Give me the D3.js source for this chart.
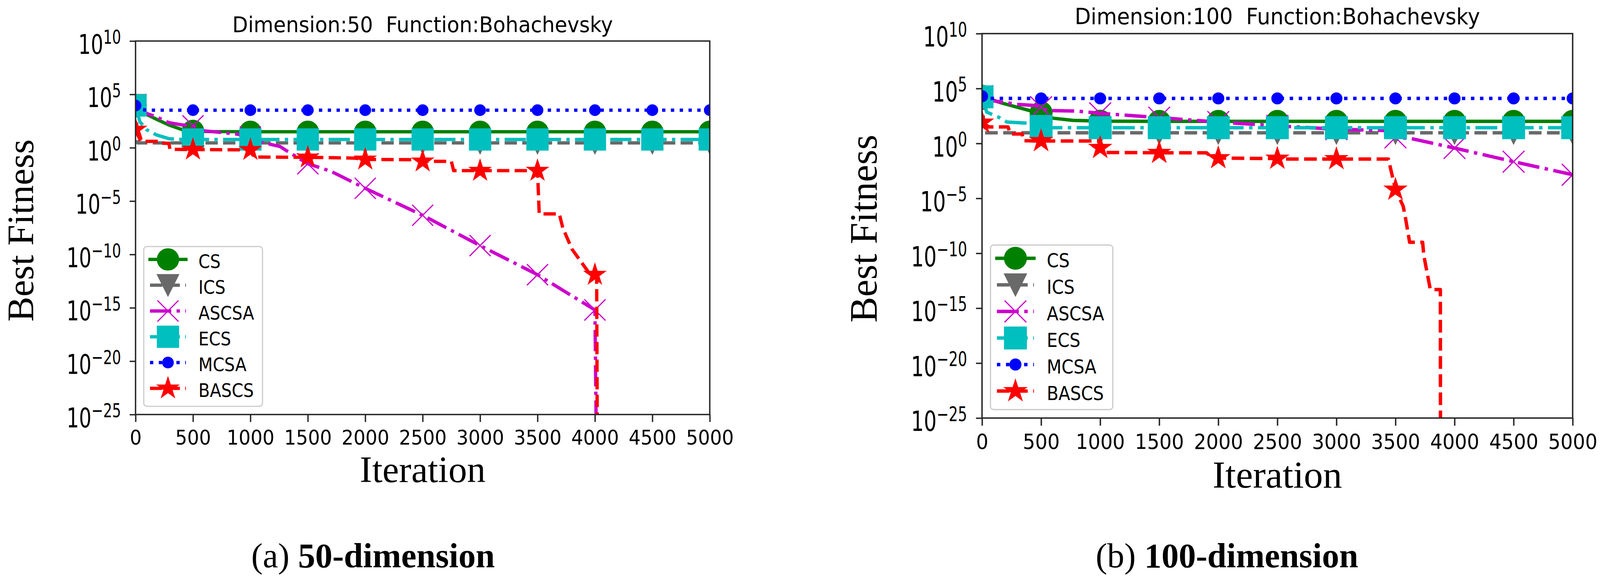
<!DOCTYPE html>
<meta charset="utf-8">
<style>
    body { margin: 0; background: #fff; }
    text { white-space: pre; }
    .sans { font-family: "DejaVu Sans", sans-serif; fill: #000; }
    .serif { font-family: "Liberation Serif", "Times New Roman", serif; fill: #000; }
</style>
<svg width="4105" height="1482"></svg>
<script src="https://d3js.org/d3.v7.min.js"></script>
<script>

    // tick values
    const iterTicks = [0, 500, 1000, 1500, 2000, 2500, 3000, 3500, 4000, 4500, 5000];
    const logTicks = [10, 5, 0, -5, -10, -15, -20, -25];

    // series, in drawing order
    const seriesNames = ["CS", "ICS", "ASCSA", "ECS", "MCSA", "BASCS"];
    const seriesColors = ["#008000", "#696969", "#cc00cc", "#00bfbf", "#0000ff", "#ff0000"];
    const seriesDash = ["-", "--", "-.", "-.", ":", "--"];
    const seriesMarker = ["o", "v", "x", "s", ".", "*"];

    // best fitness, as [iteration, log10(fitness)]
    // FLOOR = the run hit 0, so the line falls off the bottom of the axes
    const FLOOR = -40;

    // Dimension 50
    const cs50 = [[0, 4.0], [50, 3.5], [100, 3.1], [180, 2.68], [290, 2.13], [400, 1.72], [500, 1.58], [580, 1.52],
        [1000, 1.5], [1500, 1.5], [2000, 1.5], [2500, 1.5], [3000, 1.5], [3500, 1.5], [4000, 1.5], [4500, 1.5], [5000, 1.5]];
    const ics50 = [[0, 4.0], [20, 0.45], [500, 0.45], [1000, 0.45], [1500, 0.45], [2000, 0.45], [2500, 0.45],
        [3000, 0.45], [3500, 0.45], [4000, 0.45], [4500, 0.45], [5000, 0.45]];
    const ascsa50 = [[0, 4.0], [100, 3.2], [180, 2.9], [290, 2.35], [400, 2.15], [500, 2.05], [600, 1.58], [870, 1.3],
        [1000, 1.0], [1110, 0.48], [1260, 0.11], [1310, -0.25], [1500, -1.5], [1700, -2.2], [2000, -3.8],
        [2500, -6.33], [3000, -9.17], [3500, -11.9], [4000, -15.2], [4025, FLOOR]];
    const ecs50 = [[0, 3.96], [37, 2.45], [95, 1.7], [180, 1.21], [290, 0.85], [400, 0.78], [500, 0.77], [1000, 0.77],
        [1500, 0.77], [2000, 0.77], [2500, 0.77], [3000, 0.77], [3500, 0.77], [4000, 0.77], [4500, 0.77], [5000, 0.77]];
    const mcsa50 = [[0, 3.95], [40, 3.6], [100, 3.52], [500, 3.52], [1000, 3.52], [1500, 3.52], [2000, 3.52],
        [2500, 3.52], [3000, 3.52], [3500, 3.52], [4000, 3.52], [4500, 3.52], [5000, 3.52]];
    const bascs50 = [[0, 1.7], [20, 1.2], [45, 0.6], [200, 0.6], [215, 0.42], [290, 0.42], [300, -0.15], [500, -0.17],
        [1000, -0.2], [1030, -0.87], [1500, -0.9], [1900, -0.97], [2000, -1.1], [2450, -1.12], [2500, -1.28],
        [2750, -1.28], [2770, -2.15], [3000, -2.15], [3500, -2.15], [3515, -6.2], [3690, -6.2], [3720, -7.5],
        [3800, -9.5], [3900, -11], [3960, -11.9], [4000, -11.9], [4015, -11.9], [4025, FLOOR]];

    // Dimension 100
    const cs100 = [[0, 4.3], [160, 3.7], [400, 3.0], [500, 2.8], [600, 2.3], [770, 2.1], [1000, 2.03], [1500, 2.01],
        [2000, 2.01], [2500, 2.01], [3000, 2.01], [3500, 2.01], [4000, 2.01], [4500, 2.01], [5000, 2.01]];
    const ics100 = [[0, 4.2], [20, 0.97], [500, 0.97], [1000, 0.97], [1500, 0.97], [2000, 0.97], [2500, 0.97],
        [3000, 0.97], [3500, 0.97], [4000, 0.97], [4500, 0.97], [5000, 0.97]];
    const ascsa100 = [[0, 4.3], [96, 3.88], [300, 3.56], [450, 3.45], [500, 3.3], [550, 3.0], [800, 2.95],
        [1000, 2.74], [1500, 2.35], [2000, 1.95], [2500, 1.6], [3000, 1.3], [3420, 1.17], [3500, 0.55],
        [3630, 0.45], [4000, -0.42], [4500, -1.66], [5000, -2.85]];
    const ecs100 = [[0, 4.24], [40, 2.85], [140, 2.39], [210, 1.95], [380, 1.85], [500, 1.55], [590, 1.43],
        [1000, 1.43], [1500, 1.43], [2000, 1.43], [2500, 1.43], [3000, 1.43], [3500, 1.43], [4000, 1.43],
        [4500, 1.43], [5000, 1.43]];
    const mcsa100 = [[0, 4.3], [40, 4.1], [500, 4.1], [1000, 4.1], [1500, 4.1], [2000, 4.1], [2500, 4.1],
        [3000, 4.1], [3500, 4.1], [4000, 4.1], [4500, 4.1], [5000, 4.1]];
    const bascs100 = [[0, 1.9], [60, 1.5], [220, 1.5], [240, 0.86], [340, 0.86], [350, 0.25], [500, 0.22],
        [990, 0.22], [1000, -0.4], [1020, -0.82], [1500, -0.85], [1900, -0.85], [1950, -1.3], [2000, -1.33],
        [2500, -1.38], [2600, -1.42], [3000, -1.42], [3440, -1.42], [3500, -4.2], [3565, -5.7], [3580, -6.5],
        [3620, -9.0], [3730, -9.0], [3740, -10.2], [3795, -13.3], [3880, -13.3], [3882, FLOOR]];

    const panels = [
        { id: "a", box: [347, 105, 1817, 1061], k: 1, capX: 955,
          title: "Dimension:50  Function:Bohachevsky", caption: ["(a) ", "50-dimension"],
          series: [cs50, ics50, ascsa50, ecs50, mcsa50, bascs50] },
        { id: "b", box: [2514, 86, 4026, 1070], k: 1.03, capX: 3141,
          title: "Dimension:100  Function:Bohachevsky", caption: ["(b) ", "100-dimension"],
          series: [cs100, ics100, ascsa100, ecs100, mcsa100, bascs100] }
    ];

    const LW = 8.5;
    const dashUnits = { "-": null, "--": [3.7, 1.6], "-.": [6.4, 1.6, 1, 1.6], ":": [1, 1.65] };

    var svg = d3.select("svg");
    var defs = svg.append("defs");

    function markerPath(type, ms) {
        const h = ms / 2;
        if (type === "o") return d3.symbol(d3.symbolCircle, Math.PI * h * h)();
        if (type === ".") return d3.symbol(d3.symbolCircle, Math.PI * h * h / 4)();
        if (type === "s") return `M${-h},${-h}H${h}V${h}H${-h}Z`;
        if (type === "v") return `M${-h},${-h}L${h},${-h}L0,${h}Z`;
        if (type === "x") return `M${-h},${-h}L${h},${h}M${-h},${h}L${h},${-h}`;
        // star, matplotlib proportions
        const pts = [];
        for (let i = 0; i < 10; i++) {
            const r = i % 2 ? h * 0.381966 : h;
            const a = -Math.PI / 2 + i * Math.PI / 5;
            pts.push([r * Math.cos(a), r * Math.sin(a)]);
        }
        return "M" + pts.join("L") + "Z";
    }

    function styleLine(sel, i, k) {
        const lw = LW * k;
        const dash = dashUnits[seriesDash[i]];
        sel.attr("fill", "none")
            .attr("stroke", seriesColors[i])
            .attr("stroke-width", lw)
            .attr("stroke-linejoin", "round")
            .attr("stroke-linecap", dash ? "butt" : "square")
            .attr("stroke-dasharray", dash ? dash.map(v => v * lw).join(",") : null);
    }

    function styleMarker(sel, i, k) {
        const hollow = seriesMarker[i] === "x";
        sel.attr("d", markerPath(seriesMarker[i], 54 * k))
            .attr("fill", hollow ? "none" : seriesColors[i])
            .attr("stroke", seriesColors[i])
            .attr("stroke-width", 3 * k);
    }

    function fmtExp(e) {
        return e < 0 ? "\u2212" + (-e) : String(e);
    }

    function drawPanel(p) {
        const [x0, y0, x1, y1] = p.box, k = p.k;
        const cx = (x0 + x1) / 2, cy = (y0 + y1) / 2;

        var x = d3.scaleLinear().domain([0, 5000]).range([x0, x1]);
        var y = d3.scaleLog().domain([1e-25, 1e10]).range([y1, y0]);

        defs.append("clipPath").attr("id", "clip-" + p.id)
            .append("rect").attr("x", x0).attr("y", y0).attr("width", x1 - x0).attr("height", y1 - y0);

        var g = svg.append("g");
        var plot = g.append("g").attr("clip-path", `url(#clip-${p.id})`);

        const line = d3.line().x(d => x(d.it)).y(d => y(d.v));

        p.series.forEach(function(pts, i) {
            const vals = pts.map(d => ({ it: d[0], v: Math.pow(10, d[1]) }));
            plot.append("path").datum(vals).attr("d", line).call(styleLine, i, k);
            plot.selectAll(null)
                .data(vals.filter(d => d.it % 500 === 0 && d.v >= 1e-25))
                .join("path")
                .attr("transform", d => `translate(${x(d.it)},${y(d.v)})`)
                .call(styleMarker, i, k);
        });

        // x axis
        var xa = g.append("g").attr("transform", `translate(0,${y1})`)
            .call(d3.axisBottom(x).tickValues(iterTicks).tickSize(19 * k).tickSizeOuter(0).tickFormat(d3.format("d")));
        xa.select(".domain").remove();
        xa.attr("font-family", null).attr("font-size", null).style("color", "#262626");
        xa.selectAll(".tick line").attr("stroke-width", 3.5 * k);
        xa.selectAll(".tick text")
            .attr("y", null).attr("dy", null)
            .attr("class", "sans")
            .attr("font-size", 48 * k)
            .attr("transform", `translate(0,${77 * k}) scale(1,1.08)`);

        // y axis, 10^n labels
        var ya = g.append("g").attr("transform", `translate(${x0},0)`)
            .call(d3.axisLeft(y).tickValues(logTicks.map(e => Math.pow(10, e))).tickSize(15 * k).tickSizeOuter(0).tickFormat(""));
        ya.select(".domain").remove();
        ya.attr("font-family", null).attr("font-size", null).style("color", "#262626");
        ya.selectAll(".tick line").attr("stroke-width", 3.5 * k);
        ya.selectAll(".tick text").remove();
        ya.selectAll(".tick").each(function(d, i) {
            var t = d3.select(this).append("text")
                .attr("class", "sans")
                .attr("text-anchor", "end")
                .attr("font-size", 50 * k)
                .attr("transform", `translate(${-37 * k},${32 * k}) scale(1,1.4)`);
            t.append("tspan").text("10");
            t.append("tspan").attr("font-size", 36 * k).attr("dy", -18 * k).text(fmtExp(logTicks[i]));
        });

        // frame
        g.append("rect")
            .attr("x", x0).attr("y", y0).attr("width", x1 - x0).attr("height", y1 - y0)
            .attr("fill", "none").attr("stroke", "#262626").attr("stroke-width", 3.5 * k);

        // title
        g.append("text").attr("class", "sans")
            .attr("text-anchor", "middle")
            .attr("font-size", 52 * k)
            .attr("transform", `translate(${cx},${y0 - 23 * k}) scale(1,1.05)`)
            .text(p.title);

        // axis labels
        g.append("text").attr("class", "serif")
            .attr("text-anchor", "middle")
            .attr("font-size", 95 * k)
            .attr("x", cx).attr("y", y1 + 173 * k)
            .text("Iteration");
        g.append("text").attr("class", "serif")
            .attr("text-anchor", "middle")
            .attr("font-size", 96 * k)
            .attr("transform", `translate(${x0 - 262 * k},${cy + 7 * k}) rotate(-90)`)
            .text("Best Fitness");

        // legend, lower left
        var lg = g.append("g").attr("transform", `translate(${x0 + 21 * k},${y1 - 430 * k})`);
        lg.append("rect")
            .attr("width", 304 * k).attr("height", 409 * k).attr("rx", 8 * k)
            .attr("fill", "#fff").attr("fill-opacity", 0.8)
            .attr("stroke", "#cccccc").attr("stroke-width", 3 * k);
        seriesNames.forEach(function(name, i) {
            const ry = (33 + 66 * i) * k;
            lg.append("path").attr("d", `M${16 * k},${ry}H${108 * k}`).call(styleLine, i, k);
            lg.append("path").attr("transform", `translate(${62 * k},${ry})`).call(styleMarker, i, k);
            lg.append("text").attr("class", "sans")
                .attr("font-size", 42.5 * k)
                .attr("transform", `translate(${140 * k},${ry + 22 * k}) scale(1,1.13)`)
                .text(name);
        });

        // sub-figure caption
        var cap = svg.append("text").attr("class", "serif")
            .attr("text-anchor", "middle")
            .attr("font-size", 88)
            .attr("x", p.capX).attr("y", 1452);
        cap.append("tspan").text(p.caption[0]);
        cap.append("tspan").attr("font-weight", "bold").text(p.caption[1]);
    }

    panels.forEach(drawPanel);

</script>
